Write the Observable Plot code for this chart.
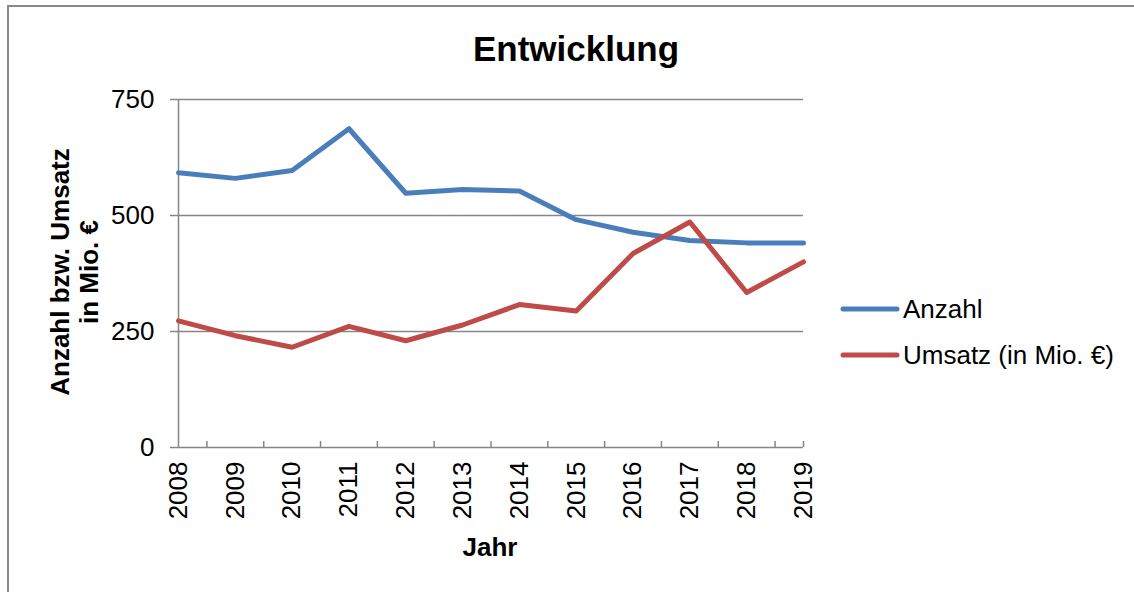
<!DOCTYPE html>
<html>
<head>
<meta charset="utf-8">
<script src="https://cdn.jsdelivr.net/npm/d3@7"></script>
<script src="https://cdn.jsdelivr.net/npm/@observablehq/plot@0.6"></script>
<style>
  html, body { margin: 0; padding: 0; background: #fff; overflow: hidden; }
  body { width: 1134px; height: 592px; position: relative; font-family: "Liberation Sans", Arial, sans-serif; }
  #chart { position: absolute; left: 0; top: 0; }
  .border { position: absolute; left: 7px; top: 5px; width: 1130px; height: 700px; border: 2px solid #898989; box-sizing: border-box; }
  .title { position: absolute; left: 576px; top: 29px; transform: translateX(-50%); font-size: 35px; font-weight: bold; white-space: nowrap; line-height: 40px; color: #000; }
  .ylabel { position: absolute; left: 75px; top: 272px; transform: translate(-50%, -50%) rotate(-90deg); font-size: 26px; font-weight: bold; white-space: nowrap; text-align: center; line-height: 29px; color: #000; }
  .xlabel { position: absolute; left: 490px; top: 532px; transform: translateX(-50%); font-size: 26px; font-weight: bold; white-space: nowrap; line-height: 30px; color: #000; }
  .legend { position: absolute; left: 840px; top: 286px; }
  .legend .item { display: flex; align-items: center; height: 46px; font-size: 26px; color: #000; white-space: nowrap; }
  .legend svg { margin-right: 3px; }
</style>
</head>
<body>
<div id="chart"></div>
<div class="border"></div>
<script>
// ---- data ----
const years = [2008, 2009, 2010, 2011, 2012, 2013, 2014, 2015, 2016, 2017, 2018, 2019];
const anzahl = [592, 580, 597, 687, 548, 556, 553, 491, 464, 446, 441, 441];
const umsatz = [273, 241, 216, 261, 230, 264, 308, 294, 418, 486, 334, 400];
const yTicks = [0, 250, 500, 750];
const seriesNames = ["Anzahl", "Umsatz (in Mio. €)"];
const seriesColors = ["#4A7EBB", "#BE4B48"];
const titleText = "Entwicklung";
const xLabelText = "Jahr";
const yLabelLines = ["Anzahl bzw. Umsatz", "in Mio. €"];

// ---- table built from arrays ----
const seriesValues = [anzahl, umsatz];
const data = [];
seriesNames.forEach((name, i) => {
  years.forEach((yr, j) => data.push({ year: yr, value: seriesValues[i][j], series: name }));
});
// category-boundary tick marks (between years) plus the right end
const boundaryTicks = years.slice(0, -1).map(y => y + 0.5).concat([years[years.length - 1]]);

const gray = "#868686";

const chart = Plot.plot({
  width: 1134,
  height: 592,
  marginLeft: 178,
  marginRight: 331,
  marginTop: 99,
  marginBottom: 145,
  style: { fontFamily: "'Liberation Sans', Arial, sans-serif", fontSize: "26px", color: "#000", background: "transparent" },
  x: { domain: [years[0], years[years.length - 1]], type: "linear", nice: false },
  y: { domain: [yTicks[0], yTicks[yTicks.length - 1]], nice: false },
  color: { domain: seriesNames, range: seriesColors },
  marks: [
    Plot.gridY(yTicks.slice(1), { stroke: gray, strokeOpacity: 1, strokeWidth: 1.5 }),
    Plot.axisY({ ticks: yTicks, tickSize: 8, tickPadding: 16, stroke: gray, strokeWidth: 1.5, fill: "#000", fontSize: 26, label: null, tickFormat: d => String(d) }),
    Plot.axisX({ ticks: years, tickSize: 0, tickPadding: 14, tickRotate: -90, tickFormat: d => String(d), fill: "#000", fontSize: 26, label: null }),
    Plot.axisX({ ticks: boundaryTicks, tickSize: -6, stroke: gray, strokeWidth: 1.5, tickFormat: () => "", label: null }),
    Plot.ruleX([years[0]], { stroke: gray, strokeWidth: 1.5 }),
    Plot.ruleY([yTicks[0]], { stroke: gray, strokeWidth: 1.5 }),
    Plot.line(data, { x: "year", y: "value", stroke: "series", strokeWidth: 5, strokeLinejoin: "round", strokeLinecap: "round" })
  ]
});
document.getElementById("chart").appendChild(chart);

// ---- title, axis labels, legend ----
const t = document.createElement("div");
t.className = "title"; t.textContent = titleText; document.body.appendChild(t);

const xl = document.createElement("div");
xl.className = "xlabel"; xl.textContent = xLabelText; document.body.appendChild(xl);

const yl = document.createElement("div");
yl.className = "ylabel"; yl.innerHTML = yLabelLines.join("<br>"); document.body.appendChild(yl);

const lg = document.createElement("div");
lg.className = "legend";
seriesNames.forEach((name, i) => {
  const item = document.createElement("div");
  item.className = "item";
  item.innerHTML = `<svg width="60" height="10"><line x1="3" y1="5" x2="57" y2="5" stroke="${seriesColors[i]}" stroke-width="5" stroke-linecap="round"/></svg><span>${name}</span>`;
  lg.appendChild(item);
});
document.body.appendChild(lg);
</script>
</body>
</html>
